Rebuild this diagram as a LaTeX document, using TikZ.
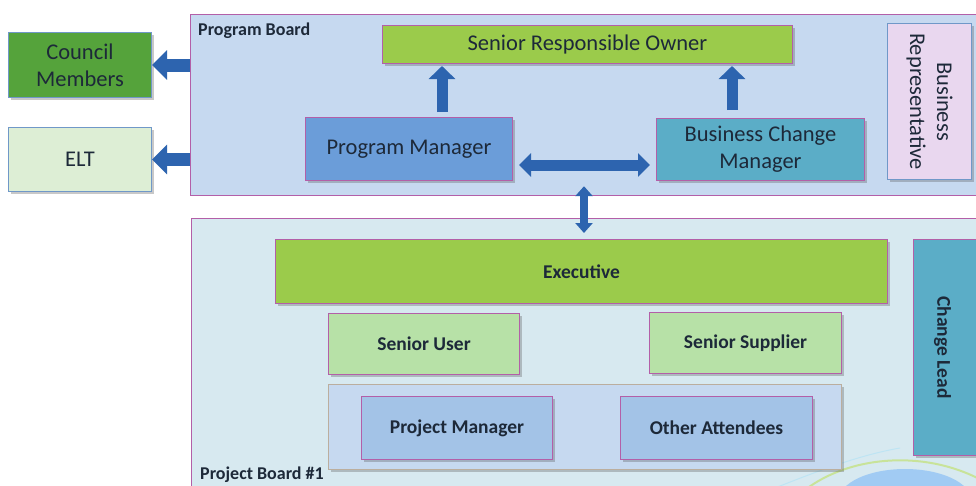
\documentclass[tikz,border=0pt]{standalone}
\usepackage{fontspec}
\setmainfont{Carlito}
\usetikzlibrary{arrows.meta,shadows}

\definecolor{pgbfill}{HTML}{C6D9F0}
\definecolor{pjbfill}{HTML}{D7E9F0}
\definecolor{frame}{HTML}{B35FA8}
\definecolor{lime}{HTML}{9BCB4B}
\definecolor{palegreen}{HTML}{B7E1A7}
\definecolor{darkgreen}{HTML}{55A33B}
\definecolor{mintfill}{HTML}{DDEED5}
\definecolor{pmblue}{HTML}{6B9DD9}
\definecolor{tealbox}{HTML}{5BADC7}
\definecolor{softblue}{HTML}{A3C3E7}
\definecolor{lilac}{HTML}{E9D7EF}
\definecolor{arrowblue}{HTML}{2D64AF}
\definecolor{ink}{HTML}{1D2939}
\definecolor{edgeblue}{HTML}{7098C8}
\definecolor{tanedge}{HTML}{BBAE9E}

\begin{document}
\begin{tikzpicture}[x=1pt, y=-1pt,
  every node/.style={text=ink, inner sep=0pt, align=center},
  board/.style={draw=frame, line width=1.2pt, anchor=north west},
  unit/.style={draw=frame, line width=1pt, anchor=north west,
    drop shadow={shadow xshift=2pt, shadow yshift=-2pt, opacity=.3, fill=black!70}},
  plain/.style={font=\fontsize{22.5}{27}\selectfont},
  heavy/.style={font=\bfseries\fontsize{19.5}{23}\selectfont},
  title/.style={font=\bfseries\fontsize{18}{21}\selectfont, anchor=base west},
  sidearrow/.style={draw=arrowblue, line width=13pt, -{Triangle[width=29pt,length=15pt]}},
  uparrow/.style={draw=arrowblue, line width=11pt, -{Triangle[width=26pt,length=13pt]}},
  linkarrow/.style={draw=arrowblue, line width=11pt, {Triangle[width=23pt,length=12pt]}-{Triangle[width=23pt,length=12pt]}},
  vlinkarrow/.style={draw=arrowblue, line width=8pt, {Triangle[width=17pt,length=10pt]}-{Triangle[width=17pt,length=10pt]}}]

\useasboundingbox (0,0) rectangle (976,485);
\clip (0,0) rectangle (976,485);
\fill[white] (0,0) rectangle (976,485);

% --------- Boards ----------
\node[board, fill=pgbfill, minimum width=800pt, minimum height=181pt] (pgb) at (190,14) {};
\node[board, fill=pjbfill, minimum width=800pt, minimum height=300pt] (pjb) at (191,218) {};

% faint swoosh in the corner
\begin{scope}
  \clip (191,218) rectangle (976,485);
  \fill[blue!55!cyan, opacity=.25] (905,500) ellipse (66 and 31);
  \draw[yellow!70!green, opacity=.4, line width=2pt] (805,490) .. controls (850,455) and (930,448) .. (990,485);
  \draw[cyan!40, opacity=.4, line width=1pt] (770,490) .. controls (820,470) and (860,455) .. (900,448);
\end{scope}

\node[title] (pgbtitle) at (198,35) {Program Board};
\node[title] (pjbtitle) at (200,479) {Project Board \#1};

% --------- Program board members ----------
\node[unit, plain, fill=lime, minimum width=410pt, minimum height=38pt] (sro) at (382,25) {Senior Responsible Owner};
\node[unit, plain, fill=pmblue, minimum width=207pt, minimum height=63pt] (pm) at (305,117) {Program Manager};
\node[unit, plain, fill=tealbox, minimum width=208pt, minimum height=62pt] (bcm) at (656,118) {Business Change\\Manager};
\node[unit, draw=edgeblue, fill=lilac, minimum width=84pt, minimum height=156pt] (brep) at (887,23) {};
\node[plain, rotate=-90] (breptext) at (brep.center) {Business\\Representative};

% --------- Outside the boards ----------
\node[unit, plain, draw=edgeblue, fill=darkgreen, minimum width=143pt, minimum height=65pt] (council) at (8,32) {Council\\Members};
\node[unit, plain, draw=edgeblue, fill=mintfill, minimum width=143pt, minimum height=64pt] (elt) at (8,127) {ELT};

% --------- Project board members ----------
\node[unit, heavy, fill=lime, minimum width=612pt, minimum height=64pt] (exec) at (275,239) {Executive};
\node[unit, heavy, fill=palegreen, minimum width=191pt, minimum height=61pt] (suser) at (328,313) {Senior User};
\node[unit, heavy, fill=palegreen, minimum width=192pt, minimum height=61pt] (ssup) at (649,312) {Senior Supplier};
\node[unit, draw=tanedge, fill=pgbfill, minimum width=513pt, minimum height=85pt] (team) at (328,384) {};
\node[unit, heavy, fill=softblue, minimum width=191pt, minimum height=63pt] (prjm) at (361,396) {Project Manager};
\node[unit, heavy, fill=softblue, minimum width=192pt, minimum height=63pt] (others) at (620,396) {Other Attendees};
\node[unit, fill=tealbox, minimum width=100pt, minimum height=216pt] (clead) at (913,239) {};
\node[heavy, rotate=-90] (cleadtext) at ([xshift=-21pt]clead.center) {Change Lead};

% --------- Arrows ----------
\coordinate (upL) at (442,0);
\coordinate (upR) at (732,0);
\coordinate (hmid) at (0,165);
\coordinate (vmid) at (584,0);

\draw[sidearrow] (pgb.west |- council) -- (council.east);
\draw[sidearrow] (pgb.west |- elt) -- (elt.east);
\draw[uparrow, shorten >=2pt] ([yshift=5pt]pm.north -| upL) -- (sro.south -| upL);
\draw[uparrow, shorten >=2pt] ([yshift=8pt]bcm.north -| upR) -- (sro.south -| upR);
\draw[linkarrow, shorten <=6pt, shorten >=6pt] (pm.east |- hmid) -- (bcm.west |- hmid);
\draw[vlinkarrow, shorten >=6pt] ([yshift=10pt]pgb.south -| vmid) -- (exec.north -| vmid);

\end{tikzpicture}
\end{document}
